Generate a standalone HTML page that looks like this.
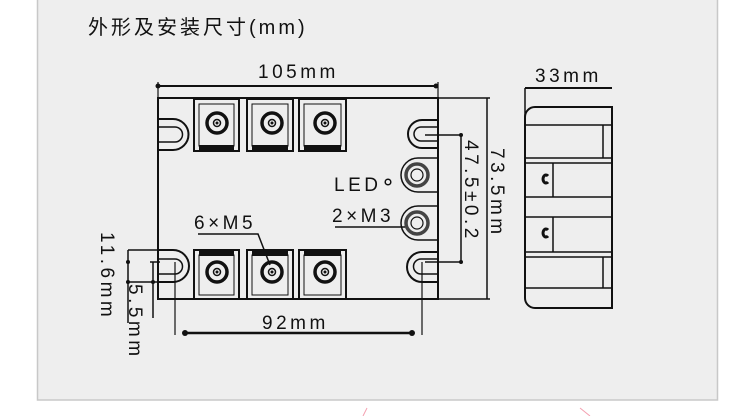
<!DOCTYPE html>
<html><head><meta charset="utf-8"><style>
html,body{margin:0;padding:0;background:#fff;}
svg{display:block;}
text{font-family:"Liberation Sans","Noto Sans CJK SC",sans-serif;fill:#111;}
</style></head><body>
<svg width="750" height="416" viewBox="0 0 750 416" xmlns="http://www.w3.org/2000/svg">
<rect x="37.5" y="-2" width="680" height="402" fill="#eeeeee" stroke="#c8c8c8" stroke-width="1.5"/>
<line x1="367" y1="408" x2="363" y2="416" stroke="#f4a0b0" stroke-width="1"/>
<line x1="580" y1="408" x2="590" y2="416" stroke="#f4a0b0" stroke-width="1"/>
<text x="88" y="34" font-size="20" letter-spacing="3">外形及安装尺寸(mm)</text>

<g stroke="#111" fill="none" stroke-width="2">
<rect x="158" y="98" width="280" height="201"/>
<line x1="158" y1="86" x2="436" y2="86"/>
<line x1="158" y1="82" x2="158" y2="98" stroke-width="1.2"/>
<line x1="438" y1="82" x2="438" y2="98" stroke-width="1.2"/>
<rect x="194" y="99" width="45" height="52"/><rect x="199" y="104" width="35" height="42" stroke-width="1"/>
<rect x="247" y="99" width="46" height="52"/><rect x="252" y="104" width="36" height="42" stroke-width="1"/>
<rect x="299" y="99" width="47" height="52"/><rect x="304" y="104" width="37" height="42" stroke-width="1"/>
<rect x="194" y="250" width="45" height="49"/><rect x="199" y="255" width="35" height="40" stroke-width="1"/>
<rect x="247" y="250" width="46" height="49"/><rect x="252" y="255" width="36" height="40" stroke-width="1"/>
<rect x="299" y="250" width="47" height="49"/><rect x="304" y="255" width="37" height="40" stroke-width="1"/>
<g stroke-width="3.5">
<circle cx="217" cy="123" r="10"/><circle cx="272" cy="123" r="10"/><circle cx="325" cy="123" r="10"/>
<circle cx="217" cy="272" r="10"/><circle cx="272" cy="272" r="10"/><circle cx="325" cy="272" r="10"/>
</g>
<g stroke-width="1.5">
<circle cx="217" cy="123" r="3.5"/><circle cx="272" cy="123" r="3.5"/><circle cx="325" cy="123" r="3.5"/>
<circle cx="217" cy="272" r="3.5"/><circle cx="272" cy="272" r="3.5"/><circle cx="325" cy="272" r="3.5"/>
</g>
<path d="M158 119 H173 A15.5 15.5 0 0 1 173 150 H158"/>
<path d="M158 127 H175 A7.5 7.5 0 0 1 175 142 H158" stroke-width="1.5"/>
<path d="M158 250 H173 A16 16 0 0 1 173 282 H158"/>
<path d="M158 259 H175 A7.5 7.5 0 0 1 175 274 H158" stroke-width="1.5"/>
<path d="M438 120 H422 A14 14 0 0 0 422 148 H438"/>
<path d="M438 127 H421 A7 7 0 0 0 421 141 H438" stroke-width="1.5"/>
<path d="M438 252 H422 A15 15 0 0 0 422 282 H438"/>
<path d="M438 259 H421 A7.5 7.5 0 0 0 421 274 H438" stroke-width="1.5"/>
<path d="M438 158 H418 A17 17 0 0 0 418 192 H438" stroke-width="1.5"/>
<path d="M438 206 H418 A17 17 0 0 0 418 240 H438" stroke-width="1.5"/>
<circle cx="417" cy="175" r="11" stroke-width="3.5" stroke="#444"/><circle cx="417" cy="175" r="6" stroke-width="1.2"/>
<circle cx="417" cy="223" r="11" stroke-width="3.5" stroke="#444"/><circle cx="417" cy="223" r="6" stroke-width="1.2"/>
<circle cx="388" cy="182" r="2.8" stroke-width="1.5"/>
<line x1="335" y1="227" x2="405" y2="227" stroke-width="1.5"/>
<path d="M198 234 H258 L270 265" stroke-width="1.5"/>
<path d="M425 135 H461 V262 H425" stroke-width="1.5"/>
<path d="M438 98 H490 M438 299 H490 M487 98 V299" stroke-width="1.5"/>
<line x1="185" y1="333" x2="412" y2="333" stroke-width="2.5"/>
<line x1="175" y1="262" x2="175" y2="335" stroke-width="1.2"/>
<line x1="422" y1="262" x2="422" y2="335" stroke-width="1.2"/>
<g stroke-width="1.5">
<line x1="128" y1="250" x2="128" y2="323"/>
<line x1="153" y1="262" x2="153" y2="318"/>
<line x1="128" y1="250" x2="170" y2="250"/>
<line x1="128" y1="282" x2="175" y2="282"/>
<line x1="150" y1="262" x2="160" y2="262"/>
<line x1="158" y1="262" x2="158" y2="300"/>
</g>
<line x1="525" y1="88" x2="612" y2="88"/>
<path d="M535 107 H612 V308 H535 A10 10 0 0 1 525 298 V117 A10 10 0 0 1 535 107 Z"/>
<line x1="525" y1="88" x2="525" y2="117" stroke-width="1.5"/>
<g stroke-width="1.5">
<line x1="525" y1="125" x2="612" y2="125"/>
<line x1="525" y1="158" x2="612" y2="158"/>
<line x1="525" y1="163" x2="612" y2="163"/>
<line x1="525" y1="197" x2="612" y2="197"/>
<line x1="525" y1="217" x2="612" y2="217"/>
<line x1="525" y1="252" x2="612" y2="252"/>
<line x1="525" y1="257" x2="612" y2="257"/>
<line x1="525" y1="288" x2="612" y2="288"/>
<line x1="603" y1="125" x2="603" y2="158"/>
<line x1="553" y1="163" x2="553" y2="197"/>
<line x1="553" y1="217" x2="553" y2="252"/>
<line x1="603" y1="257" x2="603" y2="288"/>
</g>
<path d="M548 176 a3 4 0 1 0 0 6" stroke-width="3"/>
<path d="M548 230 a3 4 0 1 0 0 6" stroke-width="3"/>
</g>
<g fill="#111">
<rect x="199" y="145" width="35" height="6"/><rect x="252" y="145" width="36" height="6"/><rect x="304" y="145" width="37" height="6"/>
<rect x="199" y="250" width="35" height="6"/><rect x="252" y="250" width="36" height="6"/><rect x="304" y="250" width="37" height="6"/>
<circle cx="217" cy="123" r="1.5"/><circle cx="272" cy="123" r="1.5"/><circle cx="325" cy="123" r="1.5"/>
<circle cx="217" cy="272" r="1.5"/><circle cx="272" cy="272" r="1.5"/><circle cx="325" cy="272" r="1.5"/>
<circle cx="158" cy="86" r="2.5"/><circle cx="436" cy="86" r="2.5"/>
<circle cx="185" cy="333" r="3"/><circle cx="412" cy="333" r="3"/>
<circle cx="461" cy="135" r="2"/><circle cx="461" cy="262" r="2"/>
<circle cx="128" cy="262" r="2"/><circle cx="128" cy="282" r="2"/>
<circle cx="153" cy="282" r="2"/>
</g>
<g font-size="19" letter-spacing="3.5">
<text x="258" y="78">105mm</text>
<text x="262" y="329">92mm</text>
<text x="334" y="191">LED</text>
<text x="332" y="222">2×M3</text>
<text x="194" y="229">6×M5</text>
<text x="535" y="82">33mm</text>
<text transform="translate(465,140) rotate(90)">47.5±0.2</text>
<text transform="translate(491,148) rotate(90)">73.5mm</text>
<text transform="translate(101,232) rotate(90)">11.6mm</text>
<text transform="translate(129,284) rotate(90)">5.5mm</text>
</g>
</svg>
</body></html>
